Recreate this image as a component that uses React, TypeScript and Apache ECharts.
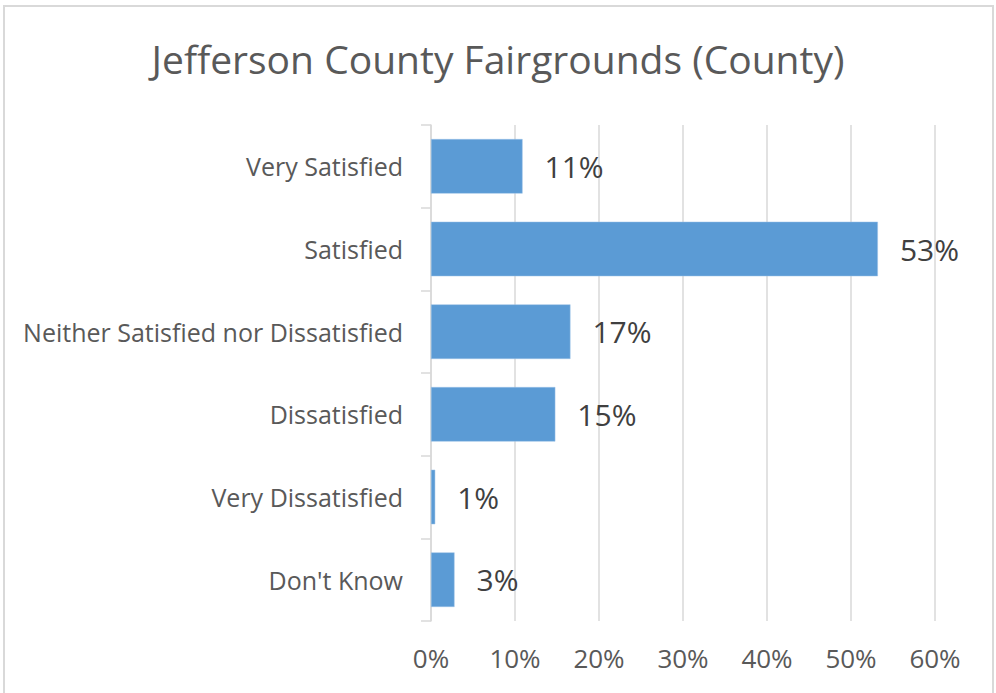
import React, { useEffect, useRef } from "react";
import * as echarts from "echarts";

const TITLE = "Jefferson County Fairgrounds (County)";
const categories = [
  "Very Satisfied",
  "Satisfied",
  "Neither Satisfied nor Dissatisfied",
  "Dissatisfied",
  "Very Dissatisfied",
  "Don't Know",
];
const values = [10.9, 53.2, 16.6, 14.8, 0.5, 2.8];
const axisMin = 0;
const axisMax = 60;
const axisInterval = 10;

const FONT = "'Open Sans', sans-serif";

export default function App() {
  const ref = useRef<HTMLDivElement>(null);
  useEffect(() => {
    document.body.style.margin = "0";
    const chart = echarts.init(ref.current!, null, { renderer: "svg" });
    chart.setOption({
      animation: false,
      backgroundColor: "#ffffff",
      title: {
        text: TITLE,
        left: "center",
        top: 34,
        textStyle: { fontFamily: FONT, fontSize: 39, fontWeight: "normal", color: "#595959" },
      },
      graphic: [
        {
          type: "rect",
          shape: { x: 4, y: 6, width: 989, height: 720 },
          style: { fill: "none", stroke: "#D9D9D9", lineWidth: 2 },
          silent: true,
        },
      ],
      grid: { left: 431, right: 61, top: 125, bottom: 72, containLabel: false },
      xAxis: {
        type: "value",
        min: axisMin,
        max: axisMax,
        interval: axisInterval,
        axisLine: { show: false },
        axisTick: { show: false },
        splitLine: { lineStyle: { color: "#D9D9D9", width: 1.5 } },
        axisLabel: {
          margin: 24,
          fontFamily: FONT,
          fontSize: 26,
          color: "#595959",
          formatter: (v: number) => `${v}%`,
        },
      },
      yAxis: {
        type: "category",
        data: categories,
        inverse: true,
        axisLine: { show: true, lineStyle: { color: "#D9D9D9", width: 1.5 } },
        axisTick: { show: true, length: 10, lineStyle: { color: "#D9D9D9", width: 1.5 } },
        axisLabel: {
          margin: 28,
          fontFamily: FONT,
          fontSize: 25,
          color: "#595959",
        },
      },
      series: [
        {
          type: "bar",
          data: values,
          barCategoryGap: "34%",
          itemStyle: { color: "#5B9BD5", borderColor: "#9DC3E6", borderWidth: 0.5 },
          label: {
            show: true,
            position: "right",
            distance: 22,
            fontFamily: FONT,
            fontSize: 30,
            color: "#404040",
            formatter: (p: any) => `${Math.round(p.value)}%`,
          },
        },
      ],
    });
    return () => chart.dispose();
  }, []);
  return <div ref={ref} style={{ width: 996, height: 693, position: "absolute", left: 0, top: 0 }} />;
}
